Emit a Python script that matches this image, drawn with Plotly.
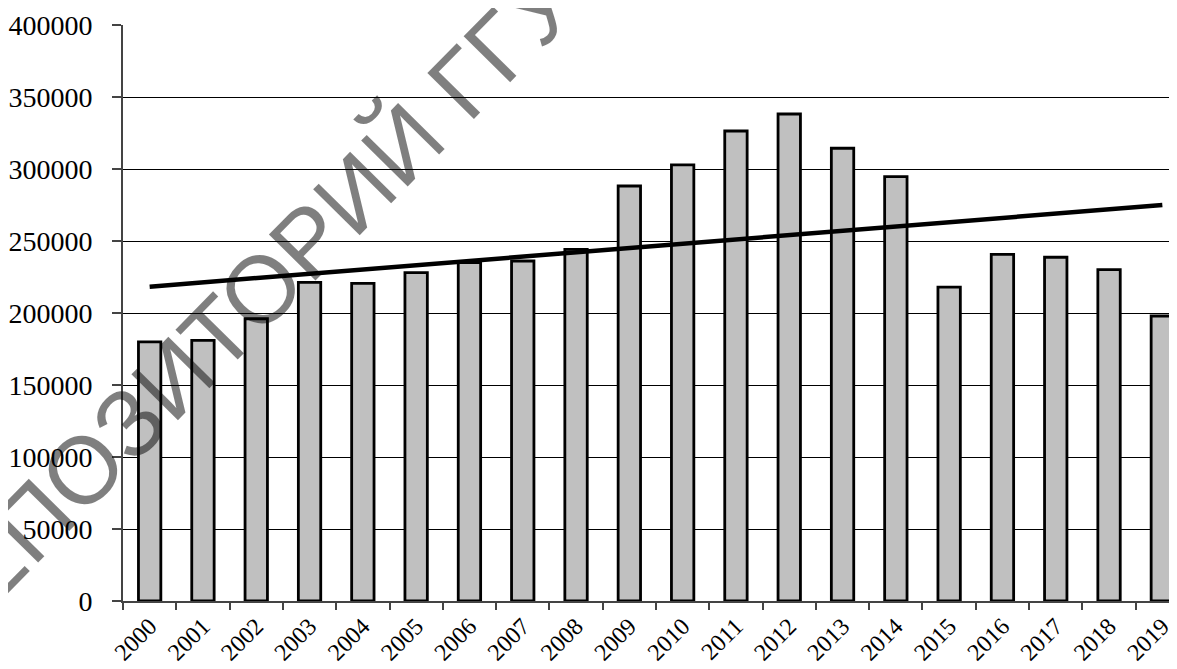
import numpy as np
import plotly.graph_objects as go

years = [str(y) for y in range(2000, 2020)]
values = [180000, 181000, 196000, 221300, 220600, 228000, 235000, 236100, 244200, 288200,
          302800, 326400, 338200, 314400, 294700, 218000, 240700, 238700, 230100, 197900]
y_ticks = [0, 50000, 100000, 150000, 200000, 250000, 300000, 350000, 400000]
watermark = "РЕПОЗИТОРИЙ ГГУ"

# linear trendline (least squares, like the spreadsheet trendline)
idx = np.arange(len(values))
slope, intercept = np.polyfit(idx, values, 1)
trend = slope * idx + intercept

SERIF = "Liberation Serif, Times New Roman, Times, serif"

fig = go.Figure()
fig.add_trace(go.Bar(
    x=years, y=values, width=0.42,
    marker=dict(color="#c0c0c0", line=dict(color="black", width=2.8)),
    showlegend=False,
))
fig.add_trace(go.Scatter(
    x=years, y=trend, mode="lines",
    line=dict(color="black", width=4.5),
    showlegend=False,
))

# page body has an 8px offset in the browser, so the figure is 8px smaller
OFF = 8
W, H = 1177 - OFF, 669 - OFF
PL, PT, PB = 123, 25, 601          # plot area in screen pixels
L, T = PL - OFF, PT - OFF
B = H - (PB - OFF)
fig.update_layout(
    width=W, height=H,
    margin=dict(l=L, r=0, t=T, b=B, autoexpand=False),
    plot_bgcolor="white", paper_bgcolor="white",
    font=dict(family=SERIF, color="black"),
    xaxis=dict(
        type="category", range=[-0.5, 19.275],
        tickangle=-45, tickfont=dict(size=24, family=SERIF, color="black"),
        ticks="outside", tickson="boundaries", ticklen=7, tickcolor="#444", tickwidth=1.5,
        showline=True, linecolor="#444", linewidth=1.5,
        showgrid=False, zeroline=False, automargin=False,
    ),
    yaxis=dict(
        range=[0, 400000], tickvals=y_ticks, ticktext=[str(v) for v in y_ticks],
        tickfont=dict(size=28, family=SERIF, color="black"),
        ticks="outside", ticklen=9, tickcolor="#444", tickwidth=1.5,
        showline=True, linecolor="#444", linewidth=2,
        showgrid=True, gridcolor="black", gridwidth=1,
        zeroline=False, ticklabelstandoff=14, automargin=False,
    ),
)

cx, cy = 240, 310   # watermark centre in screen pixels
fig.add_annotation(
    text=watermark, xref="paper", yref="paper",
    x=(cx - PL) / (1177 - PL), y=(PB - cy) / (PB - PT),
    xanchor="center", yanchor="middle", showarrow=False,
    textangle=-45.5,
    font=dict(family="Liberation Sans, Arial, sans-serif", size=95, color="rgba(0,0,0,0.5)"),
)

fig.write_html("out.html")
